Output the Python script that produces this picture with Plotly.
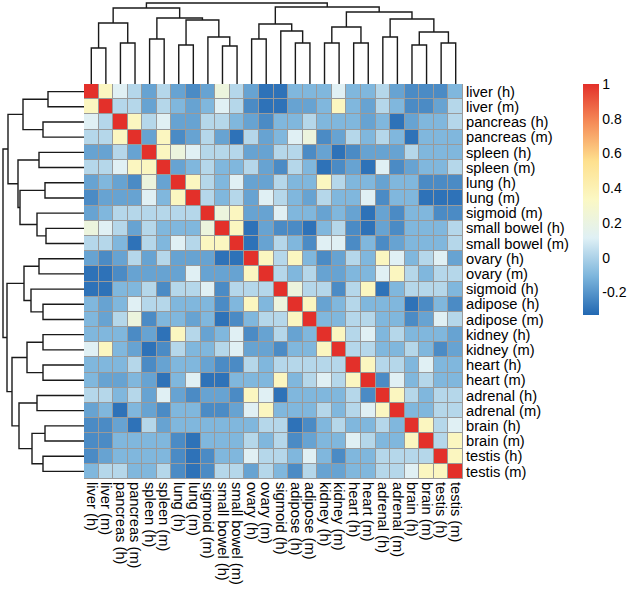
import plotly.graph_objects as go

labels = ["liver (h)", "liver (m)", "pancreas (h)", "pancreas (m)", "spleen (h)", "spleen (m)",
          "lung (h)", "lung (m)", "sigmoid (m)", "small bowel (h)", "small bowel (m)", "ovary (h)",
          "ovary (m)", "sigmoid (h)", "adipose (h)", "adipose (m)", "kidney (h)", "kidney (m)",
          "heart (h)", "heart (m)", "adrenal (h)", "adrenal (m)", "brain (h)", "brain (m)",
          "testis (h)", "testis (m)"]

corr = [
 [1, .35, .12, .02, -.16, .02, -.16, -.23, -.16, .22, .02, -.16, -.3, -.3, -.1, -.1, -.1, .12, -.1, -.1, .02, -.16, -.23, -.23, -.23, -.1],
 [.35, 1, .02, .02, -.16, .02, -.1, -.16, -.1, .12, .02, -.23, -.3, -.3, -.16, -.16, -.1, .35, -.1, -.16, .02, -.1, -.23, -.23, -.16, .02],
 [.12, .02, 1, .35, .02, .12, -.16, -.16, .02, .02, -.1, -.16, -.23, -.1, -.1, .02, -.1, -.1, -.1, -.16, -.1, -.3, -.16, -.1, -.1, .02],
 [.02, .02, .35, 1, -.16, .35, -.23, -.16, .02, -.16, -.3, .02, -.16, -.1, .12, .22, -.23, -.16, .02, -.1, .02, -.1, -.3, -.1, -.1, -.1],
 [-.16, -.16, .02, -.16, 1, .35, .22, .12, .02, .02, .02, -.16, -.16, .02, .02, -.23, -.16, -.3, -.23, -.16, -.16, -.16, .02, -.1, -.1, -.1],
 [.02, .02, .12, .35, .35, 1, -.16, -.1, .02, -.1, -.1, .02, -.16, -.23, .02, -.1, -.3, -.23, -.16, -.3, .12, -.23, -.16, -.1, -.1, .02],
 [-.16, -.1, -.16, -.23, .22, -.16, 1, .35, .02, -.1, .12, -.16, -.16, .02, -.1, -.1, .35, .02, -.1, -.1, -.16, -.1, -.1, -.23, -.23, -.23],
 [-.23, -.16, -.16, -.16, .12, -.1, .35, 1, .02, -.1, .02, -.16, .12, .02, -.1, -.16, .02, -.1, -.1, .12, -.23, -.1, -.1, -.3, -.3, -.3],
 [-.16, -.1, .02, .02, .02, .02, .02, .02, 1, .22, .35, -.16, -.16, .12, -.1, -.1, -.16, -.1, -.16, -.3, -.16, -.23, -.1, -.1, -.23, -.23],
 [.22, .12, .02, -.16, .02, -.1, -.1, -.1, .22, 1, .35, -.3, -.16, -.23, -.23, -.3, -.1, .02, -.23, -.3, -.16, -.23, -.1, -.1, -.1, .02],
 [.02, .02, -.1, -.3, .02, -.1, .12, .02, .35, .35, 1, -.3, -.16, .02, -.1, -.23, .12, .12, -.23, -.1, -.23, -.16, -.1, -.1, -.1, .02],
 [-.16, -.23, -.16, .02, -.16, .02, -.16, -.16, -.16, -.3, -.3, 1, .35, .02, .35, -.1, -.23, -.16, .02, -.1, .35, .12, -.1, .02, .12, -.16],
 [-.3, -.3, -.23, -.16, -.16, -.16, -.16, .12, -.16, -.16, -.16, .35, 1, .02, -.1, .02, -.16, -.16, -.1, -.1, .12, .35, .02, -.1, .02, .02],
 [-.3, -.3, -.1, -.1, .02, -.23, .02, .02, .12, -.23, .02, .02, .02, 1, .22, .02, .02, -.23, .02, .35, -.3, -.1, .02, .02, .02, -.1],
 [-.1, -.16, -.1, .12, .02, .02, -.1, -.1, -.1, -.23, -.1, .35, -.1, .22, 1, .35, -.16, -.1, .02, -.1, -.1, -.1, -.3, -.23, -.1, -.23],
 [-.1, -.16, .02, .22, -.23, -.1, -.1, -.16, -.1, -.3, -.23, -.1, .02, .02, .35, 1, -.1, -.1, .02, .02, -.1, -.1, -.23, -.16, .12, .02],
 [-.1, -.1, -.1, -.23, -.16, -.3, .35, .02, -.16, -.1, .12, -.23, -.16, .02, -.16, -.1, 1, .35, .02, .12, -.1, .02, -.1, -.1, -.1, -.16],
 [.12, .35, -.1, -.16, -.3, -.23, .02, -.1, -.1, .02, .12, -.16, -.16, -.23, -.1, -.1, .35, 1, .02, .02, -.1, -.1, .02, -.1, -.23, -.16],
 [-.1, -.1, -.1, .02, -.23, -.16, -.1, -.1, -.16, -.23, -.23, .02, -.1, .02, .02, .02, .02, .02, 1, .35, .02, .02, -.1, .12, -.1, -.1],
 [-.1, -.16, -.16, -.1, -.16, -.3, -.1, .12, -.3, -.3, -.1, -.1, -.1, .35, -.1, .02, .12, .02, .35, 1, -.23, .12, -.1, .02, -.1, -.1],
 [.02, .02, -.1, .02, -.16, .12, -.16, -.23, -.16, -.16, -.23, .35, .12, -.3, -.1, -.1, -.1, -.1, .02, -.23, 1, .35, .02, -.1, .02, .02],
 [-.16, -.1, -.3, -.1, -.16, -.23, -.1, -.1, -.23, -.23, -.16, .12, .35, -.1, -.1, -.1, .02, -.1, .02, .12, .35, 1, -.1, -.1, .02, .02],
 [-.23, -.23, -.16, -.3, .02, -.16, -.1, -.1, -.1, -.1, -.1, -.1, .02, .02, -.3, -.23, -.1, .02, -.1, -.1, .02, -.1, 1, .35, .02, .12],
 [-.23, -.23, -.1, -.1, -.1, -.1, -.23, -.3, -.1, -.1, -.1, .02, -.1, .02, -.23, -.16, -.1, -.1, .12, .02, -.1, -.1, .35, 1, .02, .35],
 [-.23, -.16, -.1, -.1, -.1, -.1, -.23, -.3, -.23, -.1, -.1, .12, .02, .02, -.1, .12, -.1, -.23, -.1, -.1, .02, .02, .02, .02, 1, .35],
 [-.1, .02, .02, -.1, -.1, .02, -.23, -.3, -.23, .02, .02, -.16, .02, -.1, -.23, .02, -.16, -.16, -.1, -.1, .02, .02, .12, .35, .35, 1],
]

# dendrogram merges: (node, left child, right child, height)
merges = [
    ("a", 0, 1, 36), ("b", 2, 3, 41), ("c", "a", "b", 61), ("d", 4, 5, 45),
    ("e", 6, 7, 39), ("f", 9, 10, 38), ("g", 8, "f", 47), ("h", "e", "g", 64),
    ("i", "d", "h", 66), ("j", "c", "i", 76),
    ("k", 11, 12, 45), ("l", 14, 15, 41), ("m", 13, "l", 53), ("n", "k", "m", 60),
    ("o", 16, 17, 41), ("p", 18, 19, 41), ("q", "o", "p", 57), ("r", 20, 21, 47),
    ("s", 22, 23, 39), ("t", 24, 25, 41), ("u", "s", "t", 52), ("v", "r", "u", 65),
    ("w", "q", "v", 72), ("x", "n", "w", 77), ("root", "j", "x", 81),
]

cb_ticks = [-0.2, 0, 0.2, 0.4, 0.6, 0.8, 1]
cb_text = ["-0.2", "0", "0.2", "0.4", "0.6", "0.8", "1"]
zmin, zmax = -0.33, 1.0

colorscale = [
    [0.0, "#2268B2"], [1/6, "#7CB5DC"], [2/6, "#DFF0F5"], [3/6, "#FBF8C4"],
    [4/6, "#FEE08E"], [5/6, "#F58C58"], [1.0, "#E3302A"],
]

W, H = 633, 590
hx0, hx1 = 84, 463
hy0, hy1 = 84, 479

# dendrogram segment coordinates
pos = {i: float(i) for i in range(len(labels))}
hgt = {i: 0.0 for i in range(len(labels))}
seg_p, seg_h = [], []
for name, l, r, ht in merges:
    pl, pr = pos[l], pos[r]
    seg_p += [pl, pl, pr, pr, None]
    seg_h += [hgt[l], ht, ht, hgt[r], None]
    pos[name] = (pl + pr) / 2
    hgt[name] = ht

fig = go.Figure()
n = len(labels)
fig.add_trace(go.Heatmap(
    z=corr, x=list(range(n)), y=list(range(n)), zmin=zmin, zmax=zmax,
    colorscale=colorscale, xgap=1, ygap=1, xaxis="x", yaxis="y",
    colorbar=dict(thickness=16, lenmode="pixels", len=231, x=583/W, xanchor="left",
                  y=1-84/H, yanchor="top", outlinewidth=0, xpad=0, ypad=0,
                  tickvals=cb_ticks, ticktext=cb_text, ticks="",
                  tickfont=dict(family="Liberation Sans, Arial", size=14, color="black")),
))
line = dict(color="#1A1A1A", width=1.4)
fig.add_trace(go.Scatter(x=seg_p, y=seg_h, mode="lines", line=line, xaxis="x2", yaxis="y2",
                         hoverinfo="skip", showlegend=False))
fig.add_trace(go.Scatter(x=seg_h, y=seg_p, mode="lines", line=line, xaxis="x3", yaxis="y3",
                         hoverinfo="skip", showlegend=False))

font_lab = dict(family="Liberation Sans, Arial", size=14.7, color="black")
xd = [hx0/W, hx1/W]
yd = [1-hy1/H, 1-hy0/H]
fig.update_layout(
    width=W, height=H, margin=dict(l=0, r=0, t=0, b=0),
    paper_bgcolor="white", plot_bgcolor="white", showlegend=False,
    xaxis=dict(domain=xd, range=[-0.5, n-0.5], tickvals=list(range(n)), ticktext=labels,
               tickangle=90, ticks="", showgrid=False, zeroline=False, tickfont=font_lab,
               ticklabelstandoff=2, anchor="y"),
    yaxis=dict(domain=yd, range=[n-0.5, -0.5], tickvals=list(range(n)), ticktext=labels,
               side="right", ticks="", showgrid=False, zeroline=False, tickfont=font_lab,
               ticklabelstandoff=2, anchor="x"),
    xaxis2=dict(domain=xd, range=[-0.5, n-0.5], visible=False, anchor="y2"),
    yaxis2=dict(domain=[1-hy0/H, 1.0], range=[0, hy0], visible=False, anchor="x2"),
    xaxis3=dict(domain=[0, hx0/W], range=[hx0, 0], visible=False, anchor="y3"),
    yaxis3=dict(domain=yd, range=[n-0.5, -0.5], visible=False, anchor="x3"),
    shapes=[dict(type="rect", xref="x", yref="y", x0=-0.5, x1=n-0.5, y0=-0.5, y1=n-0.5,
                 fillcolor="#9A9A9A", line=dict(color="#9A9A9A", width=1), layer="below")],
)
fig.write_html("out.html", config={"displayModeBar": False},
               post_script="document.body.style.margin='0px';")
